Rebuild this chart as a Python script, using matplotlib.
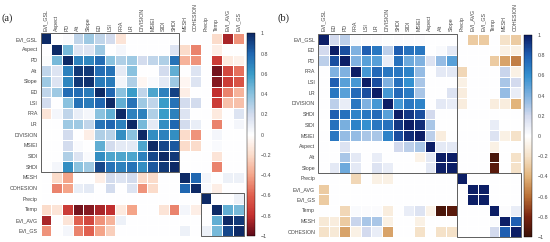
import numpy as np
import matplotlib
matplotlib.use("Agg")
import matplotlib.pyplot as plt
from matplotlib.colors import LinearSegmentedColormap
from matplotlib.patches import Rectangle

labels_a = ["EVI_GSL","Aspect","PD","Alt","Slope","ED","LSI","FRA","LR","DIVISION","MSIEI","SIDI","SHDI","MESH","COHESION","Precip","Temp","EVI_AVG","EVI_GS"]
labels_b = ["EVI_GSL","ED","PD","FRA","LSI","LR","DIVISION","SHDI","SIDI","MSIEI","Aspect","Alt","Slope","Precip","EVI_AVG","EVI_GS","Temp","MESH","COHESION"]

matrix_a = [
[1,0,.03,.25,.35,.25,.2,-.15,0,0,0,0,.02,0,0,0,-.2,-.85,-.45],
[0,1,.45,.15,.15,.35,0,.05,0,0,0,0,.15,-.2,-.5,0,-.1,0,0],
[.02,.45,1,.7,.68,.78,.4,.3,.35,.2,.25,.3,.75,-.35,-.45,0,-.75,-.12,-.08],
[.25,.15,.7,.95,.95,.78,.75,.12,.4,0,0,.2,.5,0,.15,0,-.95,-.7,-.55],
[.35,.15,.68,.95,.97,.72,.72,.06,.3,-.05,.03,.12,.35,-.05,.15,0,-.92,-.75,-.65],
[.25,.35,.78,.78,.72,1,.8,.4,.6,.25,.55,.7,.92,-.1,0,0,-.8,-.5,-.35],
[.2,0,.4,.75,.72,.8,1,.5,.75,.35,.25,.6,.75,.2,.2,0,-.75,-.3,-.3],
[-.15,.05,.25,.1,.05,.4,.5,1,.7,.7,.3,.6,.7,.15,0,0,-.12,0,.15],
[0,0,.35,.35,.25,.75,.8,.7,1,.45,.12,.65,.8,.2,.1,0,-.5,0,.05],
[0,0,.2,0,-.1,.3,.28,.65,.4,1,.65,.7,.65,-.2,-.45,0,.05,0,0],
[0,0,.2,.03,0,.5,.2,.12,.12,.55,1,.9,.85,-.2,-.2,0,.03,0,0],
[0,0,.3,.15,.03,.65,.55,.55,.55,.7,.9,1,.95,0,0,0,-.15,0,0],
[0,.05,.65,.4,.35,.9,.75,.7,.75,.65,.85,.95,1,0,0,0,-.5,0,0],
[0,-.2,-.4,0,0,-.1,.2,.15,.2,-.2,-.2,0,0,1,.8,.05,0,.08,.08],
[0,-.5,-.4,.1,.12,0,.2,0,.15,-.45,-.2,0,0,.8,1,.03,-.1,0,0],
[0,0,0,0,0,0,0,0,0,0,0,0,0,0,0,1,0,0,.08],
[-.2,-.15,-.75,-.95,-.92,-.85,-.8,-.12,-.4,0,0,-.15,-.5,.05,-.1,0,1,.5,.45],
[-.85,0,-.15,-.6,-.7,-.45,-.35,.08,0,0,0,0,0,0,0,0,.5,1,.95],
[-.45,0,.05,-.5,-.6,-.4,-.25,0,0,0,0,0,0,.08,0,.08,.45,.9,1],
]

matrix_b = [
[1,.2,.25,.03,.02,.02,.01,.02,.02,.02,0,0,0,0,-.3,-.3,0,-.2,-.3],
[.2,1,.85,.4,.8,.7,.25,.8,.72,.7,0,.03,.12,0,0,0,0,-.1,-.1],
[.25,.85,1,.4,.5,.5,.1,.72,.45,.4,.15,.35,.5,0,0,0,-.3,-.45,-.55],
[0,.4,.4,1,.55,.75,.7,.7,.65,.35,0,.12,.12,-.25,0,0,0,.22,-.1],
[0,.8,.5,.55,1,.85,.4,.72,.6,.3,0,0,0,-.1,0,0,0,.3,.2],
[0,.7,.5,.75,.85,1,.55,.75,.68,.3,0,0,.15,-.12,0,0,0,.35,.1],
[0,.25,.1,.7,.4,.55,1,.55,.7,.65,0,.12,.1,-.12,0,0,-.12,-.12,-.4],
[0,.8,.72,.65,.7,.75,.5,1,.92,.85,.2,0,0,0,0,0,0,0,0],
[0,.72,.42,.65,.6,.7,.72,.92,1,.95,.3,0,0,0,0,0,.1,0,0],
[0,.7,.35,.35,.3,.3,.65,.85,.95,1,.25,-.12,0,0,0,0,.15,-.1,-.2],
[0,0,.15,0,0,0,0,.2,.25,.3,1,.12,.12,0,0,0,-.1,0,0],
[0,0,.3,.12,0,.1,0,0,0,-.08,.12,1,1,0,0,0,-.95,0,-.2],
[0,.12,.45,.12,0,.15,.1,0,0,0,.12,1,1,0,0,0,-.9,0,-.2],
[0,0,0,-.25,0,-.1,-.1,0,0,0,0,0,0,1,0,0,0,0,0],
[-.3,0,0,0,0,0,0,0,0,0,0,0,0,0,1,1,0,0,0],
[-.3,0,0,0,0,0,0,0,0,0,0,0,0,0,1,1,0,0,0],
[0,0,-.25,.03,.02,.02,-.12,0,.1,.15,-.08,-.95,-.9,0,0,0,1,.02,.1],
[-.15,-.12,-.3,.22,.3,.3,-.1,0,0,-.1,0,0,0,0,0,0,.02,1,.8],
[-.2,-.15,-.45,-.1,.2,.1,-.45,0,0,-.2,0,-.2,-.2,0,0,0,.2,.8,1],
]

cbar_ticks = [1,.8,.6,.4,.2,0,-.2,-.4,-.6,-.8,-1]
cbar_labels = ["1","0.8","0.6","0.4","0.2","0","−0.2","−0.4","−0.6","−0.8","−1"]
boxes_a = [(0,13),(15,19)]
boxes_b = [(0,13),(13,19)]

cmap_a = LinearSegmentedColormap.from_list("a", [(0,"#5c0a18"),(.1,"#c4302f"),(.2,"#e0604f"),(.3,"#f4a58a"),(.4,"#fbdccb"),(.5,"#ffffff"),
    (.6,"#d3dcee"),(.7,"#8cc3df"),(.8,"#3a9cc8"),(.9,"#2068b2"),(1,"#0d2a66")])
cmap_b = LinearSegmentedColormap.from_list("b", [(0,"#3b1208"),(.1,"#7a2410"),(.2,"#b86f35"),(.3,"#e3b57c"),(.4,"#f5e2c9"),(.5,"#ffffff"),
    (.6,"#d3daee"),(.7,"#80b2e0"),(.8,"#3490d0"),(.9,"#1f5fb2"),(1,"#0c1e66")])

W, H = 550, 242
fig = plt.figure(figsize=(W/100, H/100), dpi=100)
plt.rcParams['font.family'] = ['Liberation Sans']

def axpx(x0, y0, x1, y1):
    return fig.add_axes([x0/W, 1-y1/H, (x1-x0)/W, (y1-y0)/H])

def panel(m, labs, cmap, box, cb, boxes, tag, tagx):
    ax = axpx(*box)
    im = ax.pcolormesh(np.array(m), cmap=cmap, vmin=-1, vmax=1, edgecolors="white", linewidth=0.4)
    ax.invert_yaxis()
    ax.xaxis.tick_top()
    n = len(labs)
    ax.set_xticks(np.arange(n)+.5, labs, rotation=90, fontsize=3.8, color="#444444")
    ax.set_yticks(np.arange(n)+.5, labs, fontsize=3.8, color="#444444")
    ax.tick_params(length=0, pad=2)
    for s in ax.spines.values():
        s.set_visible(False)
    for a, b in boxes:
        ax.add_patch(Rectangle((a, a), b-a, b-a, fill=False, ec="#444444", lw=0.6, clip_on=False))
    cax = axpx(*cb)
    c = fig.colorbar(im, cax=cax)
    c.set_ticks(cbar_ticks, labels=cbar_labels)
    c.ax.tick_params(labelsize=3.8, length=0, pad=4, colors="#444444")
    c.outline.set_linewidth(0.3)
    fig.text(tagx/W, 1-18/H, tag, fontsize=7.5, family="Liberation Serif", color="#222222", va="center")

panel(matrix_a, labels_a, cmap_a, (40.5, 33.5, 243.5, 236), (247, 33.5, 255, 236), boxes_a, "(a)", 2)
panel(matrix_b, labels_b, cmap_b, (318, 34, 520.5, 237), (524, 35, 532, 237), boxes_b, "(b)", 277)
fig.savefig("out.png", dpi=100)
